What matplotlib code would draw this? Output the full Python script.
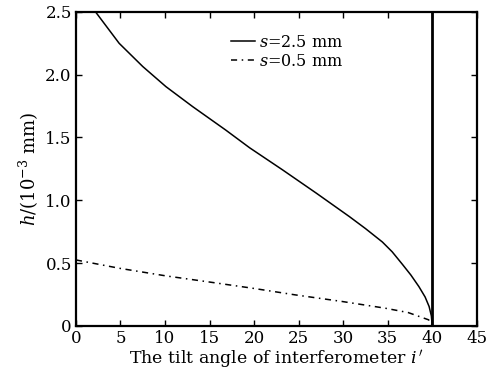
import matplotlib
matplotlib.use("Agg")
import matplotlib.pyplot as plt

plt.rcParams['font.family'] = ['DejaVu Serif']
plt.rcParams['mathtext.fontset'] = 'dejavuserif'

# s = 2.5 mm (solid)
x_s25 = [2.2, 4.85, 7.5, 10.1, 13.1, 16.8, 19.5, 23.2, 27.0, 30.7, 32.5, 34.4, 35.5, 36.65, 37.6, 38.5, 39.2, 39.65, 39.9, 40.0]
h_s25 = [2.50, 2.25, 2.065, 1.905, 1.746, 1.56, 1.418, 1.242, 1.056, 0.870, 0.775, 0.668, 0.590, 0.490, 0.405, 0.313, 0.23, 0.154, 0.08, 0.0]
# s = 0.5 mm (dash-dot)
x_s05 = [0.0, 4.85, 10.1, 14.9, 19.8, 24.6, 29.9, 34.7, 37.3, 39.6, 40.0]
h_s05 = [0.525, 0.459, 0.398, 0.350, 0.300, 0.247, 0.194, 0.141, 0.106, 0.048, 0.0]

xticks = [0, 5, 10, 15, 20, 25, 30, 35, 40, 45]
yticks = [0, 0.5, 1.0, 1.5, 2.0, 2.5]
yticklabels = ['0', '0.5', '1.0', '1.5', '2.0', '2.5']
limit_angle = 40.0

fig = plt.figure(figsize=(4.9, 3.72), dpi=100)
ax = fig.add_axes([0.155, 0.124, 0.818, 0.844])

ax.plot(x_s25, h_s25, color='black', lw=1.1, ls='-', label=r'$s$=2.5 mm')
ax.plot(x_s05, h_s05, color='black', lw=1.1, ls=(0, (4, 3, 1, 3)), label=r'$s$=0.5 mm')
ax.axvline(limit_angle, color='black', lw=2.0)

ax.set_xlim(0, 45)
ax.set_ylim(0, 2.5)
ax.set_xticks(xticks)
ax.set_yticks(yticks)
ax.set_yticklabels(yticklabels)
ax.tick_params(direction='in', top=True, right=True, length=4, width=1, labelsize=12, pad=3)
for sp in ax.spines.values():
    sp.set_linewidth(1.6)

ax.set_xlabel(r"The tilt angle of interferometer $i\,'$", fontsize=12.5, labelpad=1)
ax.set_ylabel(r"$h$/(10$^{-3}$ mm)", fontsize=13, labelpad=3)

ax.legend(loc='upper left', bbox_to_anchor=(0.37, 0.95), frameon=False, fontsize=11.5,
          handlelength=1.5, handletextpad=0.3, labelspacing=0.1, borderaxespad=0)

fig.savefig('out.png', dpi=100)
